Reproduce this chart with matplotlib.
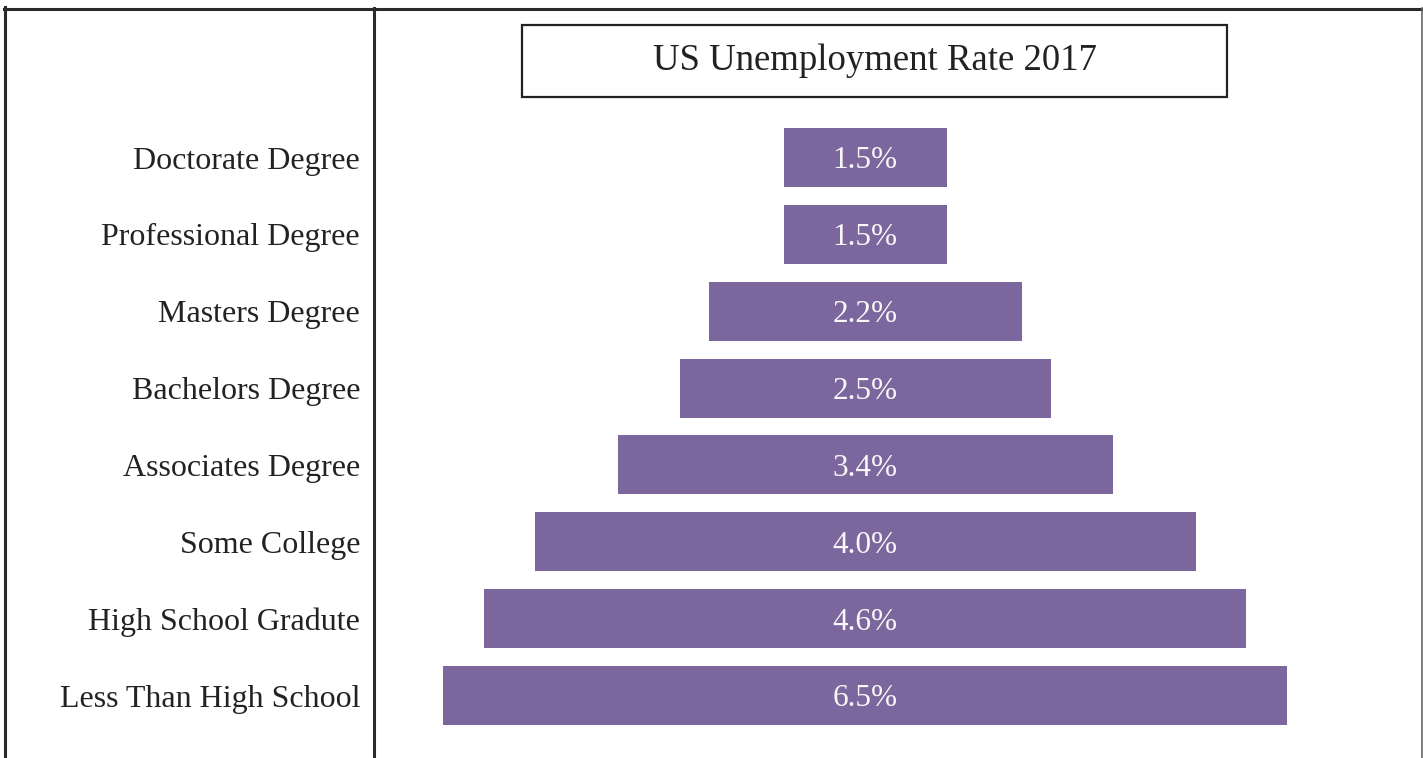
import matplotlib
matplotlib.use("Agg")
import matplotlib.pyplot as plt
from matplotlib.lines import Line2D
from matplotlib.patches import Rectangle

categories = ["Doctorate Degree", "Professional Degree", "Masters Degree",
              "Bachelors Degree", "Associates Degree", "Some College",
              "High School Gradute", "Less Than High School"]
rates = [1.5, 1.5, 2.2, 2.5, 3.4, 4.0, 4.6, 6.5]
# relative drawn bar sizes
bar_size = [163, 163, 313, 371, 495, 661, 761, 844]
title = "US Unemployment Rate 2017"

W, H = 1423, 758
fig = plt.figure(figsize=(W / 100, H / 100), dpi=100)
fig.patch.set_facecolor("white")
serif = ["Liberation Serif", "DejaVu Serif"]

def fx(px):
    return px / W

def fy(py):
    return 1 - py / H

ax_left, ax_right = 376, 1420
ax = fig.add_axes([fx(ax_left), 0, fx(ax_right) - fx(ax_left), 1])
center = 865
ax.set_xlim(ax_left - center, ax_right - center)
step = (695.5 - 157.5) / 7
ax.set_ylim((H - 157.5) / step, -157.5 / step)

ypos = list(range(len(categories)))
lefts = [-s / 2 for s in bar_size]
ax.barh(ypos, bar_size, left=lefts, height=59 / step, color="#7B679D")
for y, r in zip(ypos, rates):
    ax.text(0, y, f"{r:.1f}%", ha="center", va="center_baseline", color="#f8f8f8",
            fontsize=22.5, family=serif)

ax.set_yticks(ypos)
ax.set_yticklabels(categories, fontsize=23, family=serif, color="#222222")
ax.tick_params(axis="y", length=0, pad=11.5)
ax.set_xticks([])
for s in ax.spines.values():
    s.set_visible(False)

# title box
fig.patches.append(Rectangle((fx(522), fy(97)), fx(1227) - fx(522), fy(25) - fy(97),
                             transform=fig.transFigure, fill=False,
                             edgecolor="#222222", linewidth=1.6))
fig.text(fx(874.5), fy(61), title, ha="center", va="center", fontsize=26.5,
         family=serif, color="#222222")

# frame lines
lw = 2.2
fig.add_artist(Line2D([fx(4.5), fx(4.5)], [fy(7), 0], transform=fig.transFigure,
                      color="#2a2a2a", linewidth=lw))
fig.add_artist(Line2D([fx(3.5), 1], [fy(8.5), fy(8.5)], transform=fig.transFigure,
                      color="#2a2a2a", linewidth=lw))
fig.add_artist(Line2D([fx(374.5), fx(374.5)], [fy(8), 0], transform=fig.transFigure,
                      color="#2a2a2a", linewidth=lw))
fig.add_artist(Line2D([fx(1422), fx(1422)], [fy(8), 0], transform=fig.transFigure,
                      color="#666666", linewidth=1.2))

fig.savefig("out.png", dpi=100)
